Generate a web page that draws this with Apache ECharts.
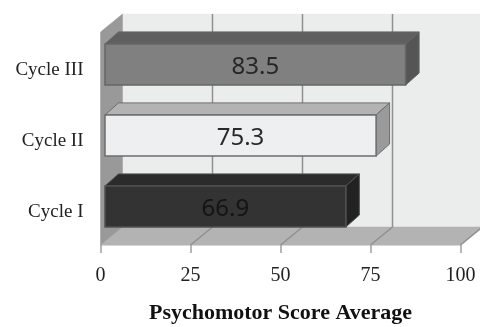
<!DOCTYPE html>
<html>
<head>
<meta charset="utf-8">
<style>html,body{margin:0;padding:0;background:#fff}#chart{width:480px;height:327px}</style>
<script src="https://cdn.jsdelivr.net/npm/echarts@6/dist/echarts.min.js"></script>
</head>
<body>
<div id="chart"></div>
<script>
const categories = ['Cycle I', 'Cycle II', 'Cycle III']
const scores = [66.9, 75.3, 83.5]
const scoreLabels = ['66.9', '75.3', '83.5']
const gridTicks = [25, 50, 75, 100]
const frontColors = ['#333333', '#eeeff0', '#808080']
const topColors = ['#2b2b2b', '#b3b3b3', '#5f5f5f']
const sideColors = ['#222222', '#9a9a9a', '#555555']
const edgeColors = ['#505050', '#6e6e6e', '#666666']
const labelColors = ['#141414', '#2a2a2a', '#262626']

// depth of the box and of the bars
const WALL_DX = 22
const WALL_DY = 18
const BAR_DX = 13.5
const BAR_DY = 12
const BAR_SHIFT_X = 4.5
const BAR_SHIFT_Y = -3

const poly = (points, fill, stroke, lineWidth) => ({
  type: 'polygon',
  shape: { points },
  style: { fill, stroke: stroke || fill, lineWidth: lineWidth || 0.5 }
})

function renderBox(params, api) {
  const g = params.coordSys
  const left = g.x
  const right = g.x + g.width
  const top = g.y
  const bottom = g.y + g.height
  const children = [
    poly([[left + WALL_DX, top - WALL_DY], [right + WALL_DX, top - WALL_DY], [right + WALL_DX, bottom - WALL_DY], [left + WALL_DX, bottom - WALL_DY]], '#ebecec'),
    poly([[left, bottom], [right, bottom], [right + WALL_DX, bottom - WALL_DY], [left + WALL_DX, bottom - WALL_DY]], '#b3b3b3'),
    poly([[left, top], [left + WALL_DX, top - WALL_DY], [left + WALL_DX, bottom - WALL_DY], [left, bottom]], '#999999')
  ]
  gridTicks.forEach((t) => {
    const x = api.coord([t, 0])[0]
    children.push({
      type: 'polyline',
      shape: { points: [[x, bottom], [x + WALL_DX, bottom - WALL_DY], [x + WALL_DX, top - WALL_DY]] },
      style: { fill: 'none', stroke: '#909090', lineWidth: 1.5 }
    })
  })
  return { type: 'group', children }
}

function renderBar(params, api) {
  const i = params.dataIndex
  const start = api.coord([0, api.value(1)])
  const end = api.coord([api.value(0), api.value(1)])
  const h = api.size([0, 1])[1] * 0.58
  const x0 = start[0] + BAR_SHIFT_X
  const x1 = end[0] + BAR_SHIFT_X
  const y0 = start[1] - h / 2 + BAR_SHIFT_Y
  const y1 = y0 + h
  return {
    type: 'group',
    children: [
      poly([[x0, y0], [x1, y0], [x1 + BAR_DX, y0 - BAR_DY], [x0 + BAR_DX, y0 - BAR_DY]], topColors[i], edgeColors[i], 1),
      poly([[x1, y0], [x1 + BAR_DX, y0 - BAR_DY], [x1 + BAR_DX, y1 - BAR_DY], [x1, y1]], sideColors[i], edgeColors[i], 1),
      poly([[x0, y0], [x1, y0], [x1, y1], [x0, y1]], frontColors[i], edgeColors[i], 1.5),
      {
        type: 'text',
        style: {
          x: (x0 + x1) / 2,
          y: (y0 + y1) / 2 + 3,
          text: scoreLabels[i],
          fill: labelColors[i],
          font: '24px "Noto Sans"',
          align: 'center',
          verticalAlign: 'middle'
        }
      }
    ]
  }
}

const chart = echarts.init(document.getElementById('chart'), null, { renderer: 'canvas' })
chart.setOption({
  animation: false,
  backgroundColor: '#fff',
  grid: { left: 100.5, right: 19.5, top: 32, bottom: 82, containLabel: false, outerBoundsMode: 'none' },
  xAxis: {
    type: 'value',
    min: 0,
    max: 100,
    interval: 25,
    splitLine: { show: false },
    axisLine: { show: true, lineStyle: { color: '#dcdcdc', width: 1.5 } },
    axisTick: { show: true, length: 8, lineStyle: { color: '#a0a0a0', width: 1.5 } },
    axisLabel: { margin: 21, color: '#222', fontFamily: 'Liberation Serif', fontSize: 20 },
    name: 'Psychomotor Score Average',
    nameLocation: 'middle',
    nameGap: 57,
    nameTextStyle: { color: '#111', fontFamily: 'Liberation Serif', fontWeight: 'bold', fontSize: 22 }
  },
  yAxis: {
    type: 'category',
    data: categories,
    axisLine: { show: false },
    axisTick: { show: false },
    axisLabel: { margin: 17, verticalAlign: 'top', padding: [-7, 0, 0, 0], color: '#222', fontFamily: 'Liberation Serif', fontSize: 19 }
  },
  series: [
    { type: 'custom', z: 1, silent: true, renderItem: renderBox, data: [[0, 0]], encode: { x: 0, y: 1 } },
    {
      type: 'custom',
      z: 2,
      silent: true,
      renderItem: renderBar,
      data: scores.map((v, i) => [v, i]),
      encode: { x: 0, y: 1 }
    }
  ]
})
</script>
</body>
</html>
